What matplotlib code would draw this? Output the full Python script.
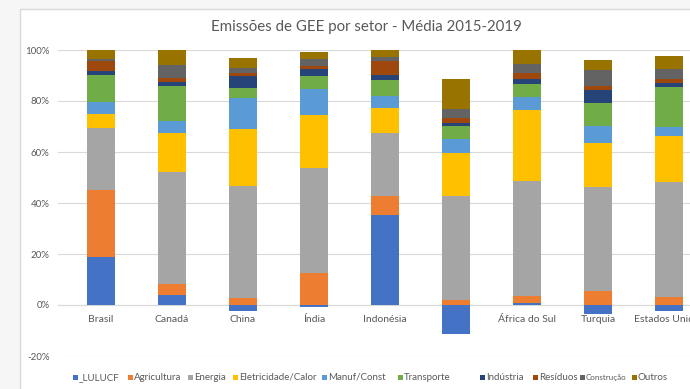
import matplotlib.pyplot as plt
from matplotlib.patches import Rectangle
from matplotlib.ticker import FuncFormatter
import numpy as np

plt.rcParams['font.family'] = ['Lato', 'DejaVu Sans']

# Países e participação (%) de cada setor nas emissões
paises = ['Brasil', 'Canadá', 'China', 'Índia', 'Indonésia', 'Rússia',
          'África do Sul', 'Turquia', 'Estados Unidos']
setores = ['_LULUCF', 'Agricultura', 'Energia', 'Eletricidade/Calor', 'Manuf/Const',
           'Transporte', 'Indústria', 'Resíduos', 'Construção', 'Outros']

lulucf      = [18.9,  3.9, -2.2, -0.8, 35.2, -11.4,  0.7, -3.6, -2.2]
agricultura = [26.2,  4.2,  2.9, 12.5,  7.7,   2.0,  2.8,  5.5,  3.0]
energia     = [24.2, 44.2, 43.9, 41.1, 24.6,  40.9, 45.1, 40.9, 45.1]
eletricidade= [ 5.6, 15.3, 22.1, 21.0,  9.9,  16.8, 27.9, 17.0, 18.2]
manuf       = [ 4.8,  4.7, 12.4, 10.0,  4.6,   5.3,  4.9,  6.8,  3.6]
transporte  = [10.4, 13.7,  3.8,  5.2,  6.2,   5.2,  5.3,  9.1, 15.5]
industria   = [ 1.8,  1.6,  4.8,  2.7,  1.9,   1.1,  2.0,  5.0,  1.8]
residuos    = [ 3.8,  1.3,  1.2,  1.3,  5.7,   1.9,  2.2,  1.7,  1.3]
construcao  = [ 0.7,  5.2,  2.0,  2.7,  1.3,   3.7,  3.5,  6.3,  4.0]
outros      = [ 3.6,  5.9,  3.8,  2.7,  2.9,  11.6,  5.6,  3.7,  5.1]

valores = [lulucf, agricultura, energia, eletricidade, manuf,
           transporte, industria, residuos, construcao, outros]
cores = ['#4472C4', '#ED7D31', '#A5A5A5', '#FFC000', '#5B9BD5',
         '#70AD47', '#264478', '#9E480E', '#636363', '#997300']

W, H = 690, 389
fig = plt.figure(figsize=(W / 100, H / 100), dpi=100, facecolor='#f6f6f6')

# área do gráfico (borda cinza clara)
fig.patches.append(Rectangle((20 / W, -0.1), 1.2, 1 - 9 / H + 0.1, transform=fig.transFigure,
                             facecolor='white', edgecolor='#d9d9d9', lw=1, zorder=-1))

# eixo: 71 px por categoria, Brasil em x=101
px = 71.0
x0 = 58
ax = fig.add_axes([x0 / W, 1 - 356 / H, 1 - x0 / W, (356 - 50) / H])
ax.set_zorder(1)
ax.set_xlim(-(101 - x0) / px, (W - 101) / px)
ax.set_ylim(-20, 100)
ax.patch.set_alpha(0)

x = np.arange(len(paises))
pos = np.zeros(len(paises))
neg = np.zeros(len(paises))
for vals, cor, nome in zip(valores, cores, setores):
    v = np.array(vals)
    base = np.where(v >= 0, pos, neg)
    ax.bar(x, v, bottom=base, width=0.4, color=cor, label=nome, zorder=3)
    pos = np.where(v >= 0, pos + v, pos)
    neg = np.where(v < 0, neg + v, neg)

for s in ['top', 'right', 'left']:
    ax.spines[s].set_visible(False)
ax.spines['bottom'].set_position(('data', 0))
ax.spines['bottom'].set_color('#d9d9d9')
ax.spines['bottom'].set_zorder(2)

ax.set_yticks(np.arange(-20, 101, 20))
ax.yaxis.set_major_formatter(FuncFormatter(lambda v, _: f'{v:.0f}%'))
ax.grid(axis='y', color='#d9d9d9', lw=0.8, zorder=1)
ax.set_axisbelow(True)
ax.tick_params(axis='y', length=0, pad=6, labelsize=7, labelcolor='#595959')
ax.set_xticks(x)
ax.set_xticklabels(paises)
ax.tick_params(axis='x', length=0, pad=7, labelsize=7.5, labelcolor='#595959')
ax.xaxis.set_zorder(2)

fig.text(366 / W, 1 - 27 / H, 'Emissões de GEE por setor - Média 2015-2019',
         ha='center', va='center', fontsize=10.8, color='#595959')

# legenda
leg_x = [73, 128, 188, 233, 322, 398, 480, 533, 580, 632]
for xm, cor, nome in zip(leg_x, cores, setores):
    fig.patches.append(Rectangle((xm / W, 1 - 380 / H), 5 / W, 5 / H, transform=fig.transFigure,
                                 facecolor=cor, edgecolor='none'))
    fs = 5.8 if nome == 'Construção' else 7
    fig.text((xm + 6) / W, 1 - 377.5 / H, nome, ha='left', va='center',
             fontsize=fs, color='#595959')

fig.savefig('out.png', dpi=100, facecolor=fig.get_facecolor())
